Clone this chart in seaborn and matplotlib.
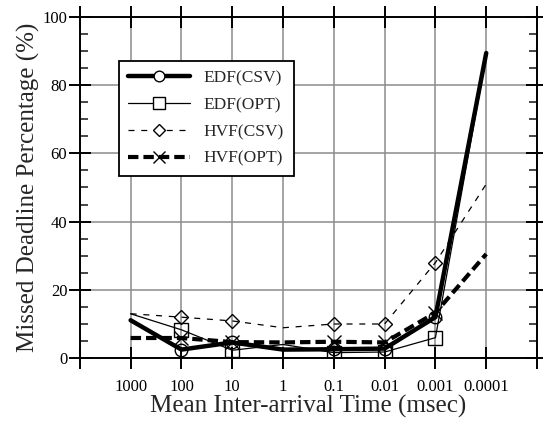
import numpy as np
import pandas as pd
import matplotlib
matplotlib.use("Agg")
import matplotlib.pyplot as plt
import seaborn as sns
from matplotlib.lines import Line2D
from matplotlib.ticker import MultipleLocator, FixedLocator

# data
x_labels = ['1000', '100', '10', '1', '0.1', '0.01', '0.001', '0.0001']
edf_csv = [11.1, 2.5, 4.6, 2.5, 2.6, 2.8, 12.0, 89.4]
edf_opt = [13.0, 8.3, 2.3, 4.0, 1.6, 1.8, 6.0, 88.5]
hvf_csv = [13.0, 12.0, 10.9, 8.9, 10.0, 10.0, 28.0, 51.0]
hvf_opt = [5.9, 5.9, 4.7, 4.6, 4.8, 4.6, 13.3, 30.5]

pos = np.arange(1, len(x_labels) + 1)
df = pd.DataFrame({'pos': pos, 'EDF(CSV)': edf_csv, 'EDF(OPT)': edf_opt,
                   'HVF(CSV)': hvf_csv, 'HVF(OPT)': hvf_opt})

sns.set_style("ticks")
plt.rcParams['font.family'] = ['Liberation Serif', 'DejaVu Serif']

fig = plt.figure(figsize=(5.43, 4.32), dpi=100)
ax = fig.add_axes([0.147, 0.171, 0.842, 0.790])

marks = [1, 2, 4, 5, 6]
styles = {
    'EDF(CSV)': dict(lw=3.2, dash=None, marker='o', ms=9),
    'EDF(OPT)': dict(lw=0.9, dash=None, marker='s', ms=10),
    'HVF(CSV)': dict(lw=0.9, dash=(4.8, 5.4), marker='D', ms=7.5),
    'HVF(OPT)': dict(lw=3.0, dash=(2.5, 1.2), marker='x', ms=10),
}
handles = []
for name, st in styles.items():
    sns.lineplot(data=df, x='pos', y=name, ax=ax, color='black',
                 linewidth=st['lw'], marker=st['marker'],
                 markersize=st['ms'], markerfacecolor='none', markeredgecolor='black',
                 markeredgewidth=1.0, markevery=marks)
    line = ax.get_lines()[-1]
    if st['dash']:
        line.set_dashes(st['dash'])
    h = Line2D([], [], color='black', lw=st['lw'], marker=st['marker'],
               ms=st['ms'] * 0.85, mfc='white', mec='black', mew=1.0)
    if st['dash']:
        h.set_dashes(st['dash'])
    handles.append(h)

ax.set_xlim(0, 9)
ax.set_ylim(0, 100)
ax.xaxis.set_major_locator(FixedLocator(range(0, 10)))
ax.set_xticklabels([''] + x_labels + [''])
ax.yaxis.set_major_locator(MultipleLocator(20))
ax.yaxis.set_minor_locator(MultipleLocator(5))

ax.grid(True, which='major', color='#8c8c8c', linewidth=1.1)
ax.set_axisbelow(True)
for s in ax.spines.values():
    s.set_linewidth(1.4)
    s.set_color('black')
    s.set_visible(True)

ax.tick_params(axis='both', which='major', direction='inout', length=16, width=1.4,
               top=True, right=True, labelsize=12, colors='black')
ax.tick_params(axis='x', which='major', pad=7)
ax.tick_params(axis='y', which='major', pad=1)
ax.tick_params(axis='y', which='minor', direction='in', length=6, width=1.2,
               left=True, right=True)

ax.set_xlabel('Mean Inter-arrival Time (msec)', fontsize=18, labelpad=0)
ax.set_ylabel('Missed Deadline Percentage (%)', fontsize=18, labelpad=2)

leg = ax.legend(handles, list(styles.keys()), loc='upper left',
                bbox_to_anchor=(0.085, 0.871), borderaxespad=0, numpoints=1,
                fontsize=12.5, handlelength=3.56, frameon=True, fancybox=False,
                framealpha=1, edgecolor='black', borderpad=0.55, labelspacing=0.61,
                handletextpad=0.8)
leg.get_frame().set_linewidth(1.3)

fig.savefig('out.png', dpi=100)
